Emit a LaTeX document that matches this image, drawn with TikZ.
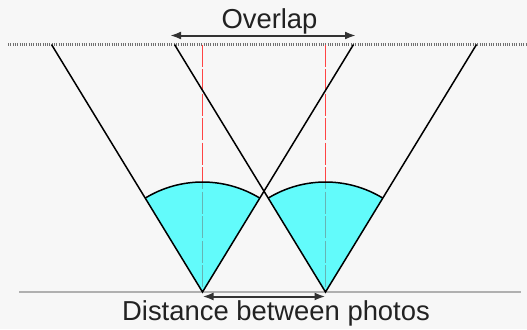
\documentclass[tikz,border=0pt]{standalone}
\usepackage{fontspec}
\setmainfont{Liberation Sans}
\usetikzlibrary{arrows.meta}
\definecolor{bg}{HTML}{F7F7F7}
\definecolor{sectc}{HTML}{00FFFF}
\definecolor{redl}{HTML}{FF4444}
\definecolor{groundc}{HTML}{B0B0B0}
\definecolor{txt}{HTML}{222222}
\definecolor{dotc}{HTML}{707070}
\definecolor{arrc}{HTML}{333333}
\begin{document}
\begin{tikzpicture}[x=1bp,y=1bp,
  viewline/.style={draw=black, line width=1.5bp},
  reddash/.style={draw=redl, line width=1.6bp, dash pattern=on 22bp off 2.5bp},
  sector/.style={fill=sectc, fill opacity=0.6},
  dotline/.style={draw=dotc, line width=2.4bp, dash pattern=on 1bp off 1.3bp},
  groundline/.style={draw=groundc, line width=2bp},
  dimarrow/.style={draw=arrc, line width=2bp, {Latex[length=11bp,width=8bp]}-{Latex[length=11bp,width=8bp]}},
  lbl/.style={text=txt, font=\fontsize{27.5}{30}\selectfont, inner sep=0pt}]
\fill[bg] (0,0) rectangle (527,329);
\useasboundingbox (0,0) rectangle (527,329);

\coordinate (A) at (202.5,37);
\coordinate (B) at (325.5,37);
\coordinate (AL) at (51.5,284.5);
\coordinate (AR) at (353.5,284.5);
\coordinate (BL) at (174.5,284.5);
\coordinate (BR) at (476.5,284.5);
\coordinate (AT) at (202.5,284.5);
\coordinate (BT) at (325.5,284.5);
\coordinate (G1) at (19,37);
\coordinate (G2) at (521,37);
\coordinate (T1) at (8,284.5);
\coordinate (T2) at (527,284.5);
\coordinate (O1) at (170,293.5);
\coordinate (O2) at (356,293.5);
\coordinate (D1) at (202.5,32.5);
\coordinate (D2) at (325.5,32.5);

% ground and top lines
\draw[groundline] (G1) -- (G2);
\draw[dotline] (T1) -- (T2);

% red centre lines
\draw[reddash] (AT) -- (A);
\draw[reddash] (BT) -- (B);

% sectors
\fill[sector] (A) -- ++(121.39:110) arc[start angle=121.39, end angle=58.61, radius=110] -- cycle;
\fill[sector] (B) -- ++(121.39:110) arc[start angle=121.39, end angle=58.61, radius=110] -- cycle;
\draw[viewline] (A) ++(121.39:110) arc[start angle=121.39, end angle=58.61, radius=110];
\draw[viewline] (B) ++(121.39:110) arc[start angle=121.39, end angle=58.61, radius=110];

% view lines
\draw[viewline] (AL) -- (A) -- (AR);
\draw[viewline] (BL) -- (B) -- (BR);

% dimension arrows
\draw[dimarrow] (O1) -- (O2);
\draw[dimarrow] (D1) -- (D2);

\node[lbl, anchor=base] (ov) at (269.5,301) {Overlap};
\node[lbl, anchor=base] (dist) at (276,9) {Distance between photos};
\end{tikzpicture}
\end{document}
